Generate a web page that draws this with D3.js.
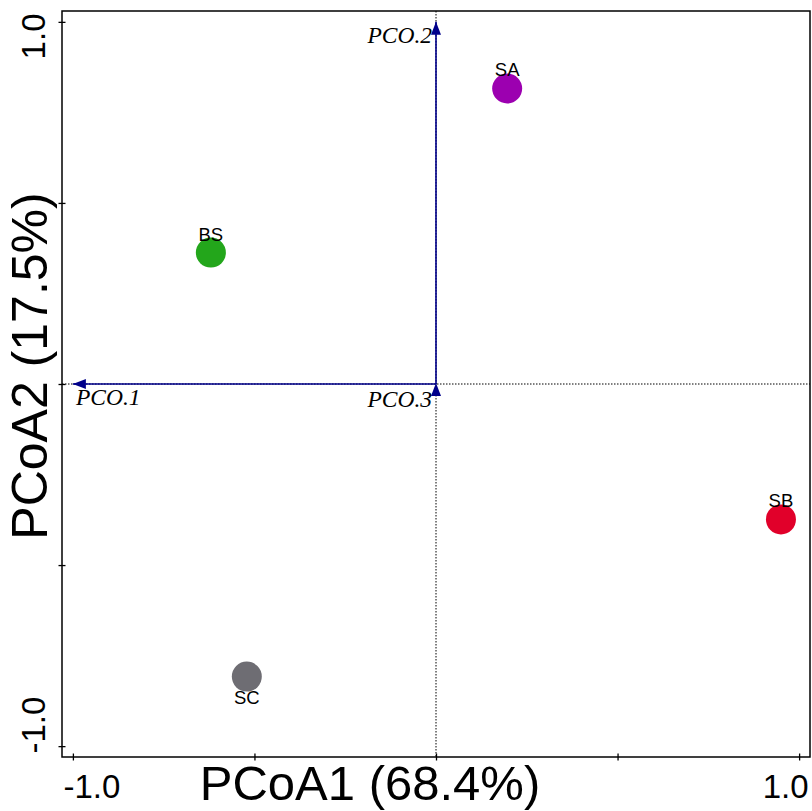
<!DOCTYPE html>
<html>
<head>
<meta charset="utf-8">
<script src="https://cdn.jsdelivr.net/npm/d3@7"></script>
<style>
  body { margin: 0; background: #fff; }
  svg { display: block; font-family: Arial, 'Liberation Sans', sans-serif; }
</style>
</head>
<body>
<svg id="chart" width="812" height="811"></svg>
<script>
// sample scores
const samples = ['SA', 'BS', 'SB', 'SC'];
const pco1 = [0.196, -0.620, 0.950, -0.521];
const pco2 = [0.816, 0.363, -0.374, -0.808];
const sampleColors = ['#9C00B0', '#23A61B', '#E1002A', '#6E6D73'];
const labelBelow = [false, false, false, true];

// axis vectors
const vectors = ['PCO.1', 'PCO.2', 'PCO.3'];
const vecX = [-1, 0, 0];
const vecY = [0, 1, 0.003];

const tickValues = [-1, -0.5, 0, 0.5, 1];
const tickLabels = {'-1': '-1.0', '1': '1.0'};
const xTitle = 'PCoA1 (68.4%)';
const yTitle = 'PCoA2 (17.5%)';

const svg = d3.select('#chart');
const box = {left: 62, right: 810, top: 11, bottom: 757};

const x = d3.scaleLinear().domain([-1.03, 1.03]).range([box.left, box.right]);
const y = d3.scaleLinear().domain([-1.03, 1.03]).range([box.bottom, box.top]);

// dotted zero lines
svg.append('line')
  .attr('x1', box.left).attr('x2', box.right)
  .attr('y1', y(0)).attr('y2', y(0))
  .attr('stroke', '#000').attr('stroke-width', 1)
  .attr('stroke-dasharray', '1.5,1.5');
svg.append('line')
  .attr('x1', x(0)).attr('x2', x(0))
  .attr('y1', box.top).attr('y2', box.bottom)
  .attr('stroke', '#000').attr('stroke-width', 1)
  .attr('stroke-dasharray', '1.5,1.5');

// axes
let gx = svg.append('g')
  .attr('transform', 'translate(0,' + box.bottom + ')')
  .call(d3.axisBottom(x).tickValues(tickValues)
    .tickFormat(d => tickLabels[d] || '').tickSizeOuter(0));
gx.select('.domain').remove();
gx.selectAll('.tick line').attr('y1', -3.5).attr('y2', 3.5)
  .attr('stroke', '#000').attr('stroke-width', 1.3);
gx.selectAll('.tick text')
  .attr('font-size', 33).attr('font-family', "Arial, 'Liberation Sans', sans-serif")
  .attr('fill', '#000')
  .attr('dy', null)
  .attr('y', 41)
  .attr('text-anchor', d => d < 0 ? 'start' : 'end')
  .attr('x', d => d < 0 ? box.left - x(d) + 1 : box.right - x(d) - 2);

let gy = svg.append('g')
  .attr('transform', 'translate(' + box.left + ',0)')
  .call(d3.axisLeft(y).tickValues(tickValues)
    .tickFormat(d => tickLabels[d] || '').tickSizeOuter(0));
gy.select('.domain').remove();
gy.selectAll('.tick line').attr('x1', -3.5).attr('x2', 3.5)
  .attr('stroke', '#000').attr('stroke-width', 1.3);
gy.selectAll('.tick text')
  .attr('font-size', 33).attr('font-family', "Arial, 'Liberation Sans', sans-serif")
  .attr('fill', '#000')
  .attr('dy', null).attr('x', null)
  .attr('text-anchor', d => d > 0 ? 'end' : 'start')
  .attr('transform', d => {
    let edge = d > 0 ? box.top + 2 - y(d) : box.bottom - 4 - y(d);
    return 'translate(-17,' + edge + ') rotate(-90)';
  });

// plot box
svg.append('rect')
  .attr('x', box.left).attr('y', box.top)
  .attr('width', box.right - box.left).attr('height', box.bottom - box.top)
  .attr('fill', 'none').attr('stroke', '#000').attr('stroke-width', 1.5);

// titles
svg.append('text')
  .attr('x', 370).attr('y', 800)
  .attr('text-anchor', 'middle').attr('font-size', 49)
  .text(xTitle);
svg.append('text')
  .attr('transform', 'translate(47,366) rotate(-90)')
  .attr('text-anchor', 'middle').attr('font-size', 50)
  .text(yTitle);

// vectors
const arrowColor = '#00008B';
const headLen = 13, headHalf = 5;
const vecLabel = {
  'PCO.1': {dx: 3, dy: 21, anchor: 'start'},
  'PCO.2': {dx: -4, dy: 21, anchor: 'end'},
  'PCO.3': {dx: -4, dy: 24, anchor: 'end'}
};
let vg = svg.append('g');
vectors.forEach((name, i) => {
  let x0 = x(0), y0 = y(0);
  let x1 = x(vecX[i]), y1 = y(vecY[i]);
  let ang = Math.atan2(y1 - y0, x1 - x0);
  vg.append('line')
    .attr('x1', x0).attr('y1', y0).attr('x2', x1).attr('y2', y1)
    .attr('stroke', arrowColor).attr('stroke-width', 1.6);
  let bx = x1 - headLen * Math.cos(ang), by = y1 - headLen * Math.sin(ang);
  let px = -Math.sin(ang) * headHalf, py = Math.cos(ang) * headHalf;
  vg.append('path')
    .attr('d', 'M' + x1 + ',' + y1 +
      'L' + (bx + px) + ',' + (by + py) +
      'L' + (bx - px) + ',' + (by - py) + 'Z')
    .attr('fill', arrowColor);
  let lab = vecLabel[name];
  vg.append('text')
    .attr('x', x1 + lab.dx).attr('y', y1 + lab.dy)
    .attr('text-anchor', lab.anchor)
    .attr('font-family', "'Liberation Serif', 'Times New Roman', serif")
    .attr('font-style', 'italic').attr('font-size', 23.5)
    .text(name);
});

// sample points
let pg = svg.append('g');
samples.forEach((s, i) => {
  pg.append('circle')
    .attr('cx', x(pco1[i])).attr('cy', y(pco2[i]))
    .attr('r', 15).attr('fill', sampleColors[i]);
});
samples.forEach((s, i) => {
  pg.append('text')
    .attr('x', x(pco1[i])).attr('y', y(pco2[i]) + (labelBelow[i] ? 27 : -12))
    .attr('text-anchor', 'middle').attr('font-size', 18.5)
    .text(s);
});
</script>
</body>
</html>
